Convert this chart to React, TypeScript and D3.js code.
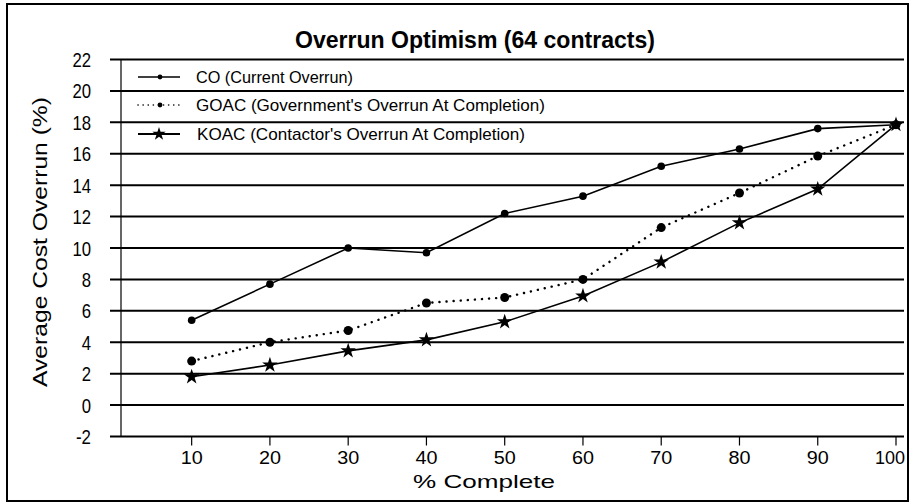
import React from "react";
import * as d3 from "d3";

const pctComplete = [10, 20, 30, 40, 50, 60, 70, 80, 90, 100];
const coValues = [5.4, 7.7, 10.0, 9.7, 12.2, 13.3, 15.2, 16.3, 17.6, 17.85];
const goacValues = [2.8, 4.0, 4.75, 6.5, 6.85, 8.0, 11.3, 13.5, 15.85, 17.85];
const koacValues = [1.8, 2.55, 3.45, 4.15, 5.3, 6.95, 9.1, 11.6, 13.75, 17.85];
const yTicks = [22, 20, 18, 16, 14, 12, 10, 8, 6, 4, 2, 0, -2];
const xTicks = [10, 20, 30, 40, 50, 60, 70, 80, 90, 100];
const legendLabels = [
  "CO (Current Overrun)",
  "GOAC (Government's Overrun At Completion)",
  "KOAC (Contactor's Overrun At Completion)",
];
const titleText = "Overrun Optimism (64 contracts)";
const xTitle = "% Complete";
const yTitle = "Average Cost Overrun (%)";

const W = 911;
const H = 504;
const FONT = "'Liberation Sans', Arial, sans-serif";

export default function App() {
  const x = d3.scaleLinear().domain([0, 100]).range([113.4, 896]);
  const y = d3.scaleLinear().domain([-2, 22]).range([436.5, 59.5]);
  const axisX = 121;
  const gridRight = 904;

  const line = d3
    .line<number>()
    .x((_, i) => x(pctComplete[i]))
    .y((d) => y(d));

  const star = d3.symbol().type(d3.symbolStar).size(75)() as string;
  const starSmall = d3.symbol().type(d3.symbolStar).size(55)() as string;

  const legendY = [77, 105, 134];
  const legendLen = [157, 349, 328];

  return (
    <svg
      width={W}
      height={H}
      style={{ position: "absolute", left: 0, top: 0, background: "#fff" }}
      fontFamily={FONT}
    >
      <rect x={0} y={0} width={W} height={H} fill="#fff" />
      {/* outer frame */}
      <rect x={7} y={4} width={901} height={497} fill="none" stroke="#000" strokeWidth={2} />

      {/* title */}
      <text
        x={295}
        y={48}
        fontSize={24}
        fontWeight="bold"
        fill="#000"
        textLength={360}
        lengthAdjust="spacingAndGlyphs"
      >
        {titleText}
      </text>

      {/* gridlines */}
      {yTicks.map((t) => (
        <line key={t} x1={110} x2={gridRight} y1={y(t)} y2={y(t)} stroke="#000" strokeWidth={2} />
      ))}
      {/* y axis */}
      <line x1={axisX} x2={axisX} y1={y(22)} y2={y(-2)} stroke="#000" strokeWidth={1.2} />
      {/* x ticks */}
      {xTicks.map((t) => (
        <line key={t} x1={x(t)} x2={x(t)} y1={y(-2)} y2={y(-2) + 9} stroke="#000" strokeWidth={1.2} />
      ))}

      {/* y tick labels */}
      {yTicks.map((t) => {
        const s = String(t);
        const len = t < 0 ? 15 : s.length * 9.3;
        return (
          <text
            key={t}
            x={91 - len}
            y={y(t) + 7.5}
            fontSize={21}
            fill="#000"
            textLength={len}
            lengthAdjust="spacingAndGlyphs"
          >
            {s}
          </text>
        );
      })}
      {/* x tick labels */}
      {xTicks.map((t) => {
        const s = String(t);
        const len = s.length === 3 ? 30 : 22;
        const cx = t === 100 ? 890 : x(t);
        return (
          <text
            key={t}
            x={cx - len / 2}
            y={464}
            fontSize={19}
            fill="#000"
            textLength={len}
            lengthAdjust="spacingAndGlyphs"
          >
            {s}
          </text>
        );
      })}
      <text
        x={413}
        y={488}
        fontSize={19}
        fill="#000"
        textLength={142}
        lengthAdjust="spacingAndGlyphs"
      >
        {xTitle}
      </text>
      <text
        transform={`translate(47,387) rotate(-90)`}
        fontSize={21}
        fill="#000"
        textLength={290}
        lengthAdjust="spacingAndGlyphs"
      >
        {yTitle}
      </text>

      {/* series */}
      <path d={line(coValues) || ""} fill="none" stroke="#000" strokeWidth={1.6} />
      <path
        d={line(goacValues) || ""}
        fill="none"
        stroke="#000"
        strokeWidth={2.4}
        strokeDasharray="0.1 7"
        strokeLinecap="round"
      />
      <path d={line(koacValues) || ""} fill="none" stroke="#000" strokeWidth={1.6} />
      {coValues.map((v, i) => (
        <circle key={"c" + i} cx={x(pctComplete[i])} cy={y(v)} r={3.8} fill="#000" />
      ))}
      {goacValues.map((v, i) => (
        <circle key={"g" + i} cx={x(pctComplete[i])} cy={y(v)} r={4.5} fill="#000" />
      ))}
      {koacValues.map((v, i) => (
        <path key={"k" + i} d={star} transform={`translate(${x(pctComplete[i])},${y(v)})`} fill="#000" />
      ))}

      {/* legend */}
      <g>
        <line x1={138} x2={180} y1={legendY[0]} y2={legendY[0]} stroke="#000" strokeWidth={1.4} />
        <circle cx={160} cy={legendY[0]} r={2.4} fill="#000" />
        <line
          x1={138}
          x2={180}
          y1={legendY[1]}
          y2={legendY[1]}
          stroke="#000"
          strokeWidth={1.6}
          strokeDasharray="0.1 5"
          strokeLinecap="round"
        />
        <circle cx={160} cy={legendY[1]} r={2.4} fill="#000" />
        <line x1={138} x2={180} y1={legendY[2]} y2={legendY[2]} stroke="#000" strokeWidth={2} />
        <path d={starSmall} transform={`translate(159,${legendY[2]})`} fill="#000" />
        {legendLabels.map((l, i) => (
          <text
            key={l}
            x={i === 2 ? 197 : 196}
            y={legendY[i] + 6}
            fontSize={17}
            fill="#000"
            textLength={legendLen[i]}
            lengthAdjust="spacingAndGlyphs"
          >
            {l}
          </text>
        ))}
      </g>
    </svg>
  );
}
